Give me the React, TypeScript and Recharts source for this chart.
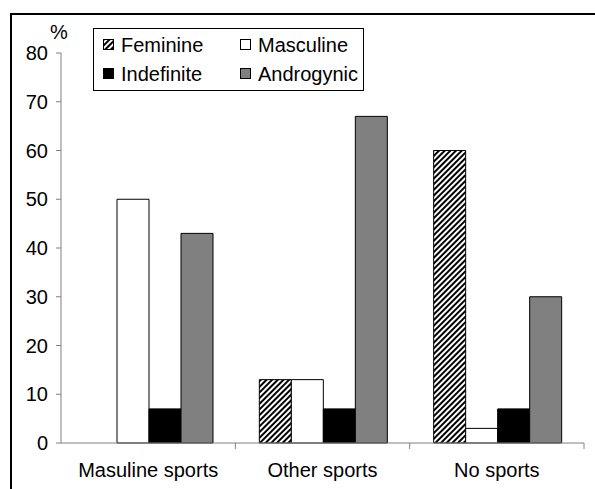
import React from 'react';
import { BarChart, Bar, XAxis, YAxis, Legend } from 'recharts';

const categories = ['Masuline sports', 'Other sports', 'No sports'];
const feminine = [0, 13, 60];
const masculine = [50, 13, 3];
const indefinite = [7, 7, 7];
const androgynic = [43, 67, 30];
const yTicks = [0, 10, 20, 30, 40, 50, 60, 70, 80];
const seriesOrder = ['Feminine', 'Masculine', 'Indefinite', 'Androgynic'];

const data = categories.map((name, i) => ({
    name,
    feminine: feminine[i],
    masculine: masculine[i],
    indefinite: indefinite[i],
    androgynic: androgynic[i],
}));

const FONT = '"Liberation Sans", Arial, sans-serif';
const X_TICK_SIZE = 6;
const X_TICK_MARGIN = 14;

// category label plus a small tick mark at the right edge of each category band
const CategoryTick = (props: any) => {
    const { x, y, payload } = props;
    const axisY = y - X_TICK_MARGIN - X_TICK_SIZE;
    const edge = payload.coordinate + (payload.offset || 0);
    return (
        <g>
            <line x1={edge} x2={edge} y1={axisY} y2={axisY + X_TICK_SIZE} stroke="#808080" />
            <text x={x} y={y} dy="0.71em" textAnchor="middle" fill="#000" fontSize={20}>
                {payload.value}
            </text>
        </g>
    );
};

const LegendBox = (props: any) => {
    const payload = [...(props.payload || [])].sort(
        (a: any, b: any) => seriesOrder.indexOf(a.value) - seriesOrder.indexOf(b.value)
    );
    return (
        <div
            style={{
                border: '1px solid #000',
                width: 269,
                height: 60,
                display: 'grid',
                gridTemplateColumns: '137px 132px',
                gridTemplateRows: '29px 29px',
                paddingTop: 1,
                boxSizing: 'content-box',
                fontFamily: FONT,
                fontSize: 20,
                color: '#000',
            }}
        >
            {payload.map((entry: any) => (
                <div key={entry.value} style={{ display: 'flex', alignItems: 'center', paddingLeft: 9 }}>
                    <svg width={12} height={12} style={{ marginRight: 6 }}>
                        <rect x={0.5} y={0.5} width={10} height={10} fill={entry.color} stroke="#000" />
                    </svg>
                    <span style={{ lineHeight: '20px' }}>{entry.value}</span>
                </div>
            ))}
        </div>
    );
};

const App: React.FC = () => {
    return (
        <div style={{ position: 'absolute', left: 0, top: 0, width: 595, height: 489, background: '#fff', fontFamily: FONT, overflow: 'hidden' }}>
            <svg width={0} height={0} style={{ position: 'absolute' }}>
                <defs>
                    <pattern id="hatch" patternUnits="userSpaceOnUse" width={4} height={4} patternTransform="rotate(45)">
                        <rect x={0} y={0} width={4} height={4} fill="#fff" />
                        <rect x={0} y={0} width={2} height={4} fill="#000" />
                    </pattern>
                </defs>
            </svg>
            <div style={{ position: 'absolute', left: 10, top: 13, width: 600, height: 2, background: '#000' }} />
            <div style={{ position: 'absolute', left: 10, top: 13, width: 2, height: 500, background: '#000' }} />
            <BarChart
                width={595}
                height={489}
                data={data}
                margin={{ top: 53, right: 11, left: 21, bottom: 16 }}
                barCategoryGap={24}
                barGap={0}
            >
                <XAxis
                    dataKey="name"
                    height={30}
                    tickLine={false}
                    tickSize={X_TICK_SIZE}
                    tickMargin={X_TICK_MARGIN}
                    axisLine={{ stroke: '#808080' }}
                    tick={<CategoryTick />}
                    interval={0}
                />
                <YAxis
                    width={40}
                    domain={[0, 80]}
                    ticks={yTicks}
                    tickSize={5}
                    tickMargin={8}
                    axisLine={{ stroke: '#808080' }}
                    tickLine={{ stroke: '#808080' }}
                    tick={{ fill: '#000', fontSize: 20 }}
                    label={{ value: '%', position: 'top', offset: 14, dx: 18, fill: '#000', fontSize: 20 }}
                />
                <Legend
                    layout="horizontal"
                    verticalAlign="middle"
                    align="center"
                    content={<LegendBox />}
                    wrapperStyle={{ top: 28, left: 93, width: 271, height: 62 }}
                />
                <Bar dataKey="feminine" name="Feminine" fill="url(#hatch)" stroke="#000" strokeWidth={1} isAnimationActive={false} />
                <Bar dataKey="masculine" name="Masculine" fill="#fff" stroke="#000" strokeWidth={1} isAnimationActive={false} />
                <Bar dataKey="indefinite" name="Indefinite" fill="#000" stroke="#000" strokeWidth={1} isAnimationActive={false} />
                <Bar dataKey="androgynic" name="Androgynic" fill="#808080" stroke="#000" strokeWidth={1} isAnimationActive={false} />
            </BarChart>
        </div>
    );
};

export default App;
